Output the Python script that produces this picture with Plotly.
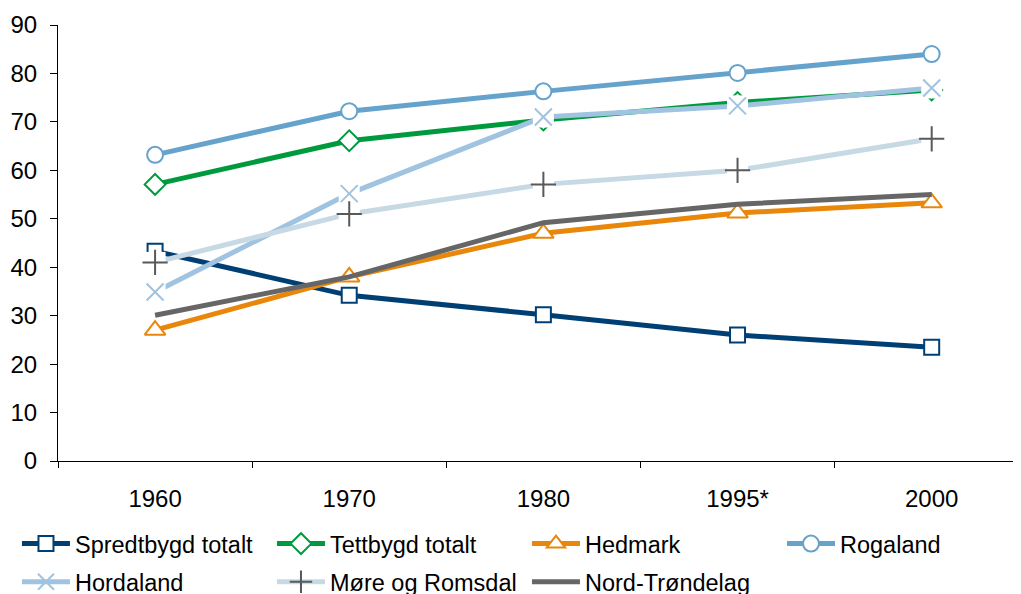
import plotly.graph_objects as go

years = ["1960", "1970", "1980", "1995*", "2000"]
spredtbygd = [43.3, 34.2, 30.2, 26.0, 23.5]
tettbygd = [57.1, 66.1, 70.4, 74.0, 76.6]
hedmark = [27.0, 38.0, 47.0, 51.2, 53.3]
rogaland = [63.2, 72.2, 76.3, 80.1, 84.0]
hordaland = [34.9, 55.2, 71.0, 73.3, 77.0]
more = [41.0, 51.0, 57.1, 60.0, 66.5]
nordtrondelag = [30.1, 38.0, 49.2, 53.0, 55.0]

# name, values, line colour, marker dict, legend id, white marker background
series = [
    ("Spredtbygd totalt", spredtbygd, "#003f74",
     dict(symbol="square", size=15, color="white", line=dict(color="#003f74", width=2)), "legend", False),
    ("Tettbygd totalt", tettbygd, "#009a3e",
     dict(symbol="diamond", size=16, color="white", line=dict(color="#009a3e", width=2)), "legend", False),
    ("Hedmark", hedmark, "#e8870a",
     dict(symbol="triangle-up", size=18, color="white", line=dict(color="#e8870a", width=2)), "legend", False),
    ("Rogaland", rogaland, "#66a3cc",
     dict(symbol="circle", size=16, color="white", line=dict(color="#66a3cc", width=2)), "legend3", False),
    ("Hordaland", hordaland, "#9fc3e0",
     dict(symbol="x-thin-open", size=17, color="#9fc3e0", line=dict(color="#9fc3e0", width=2)), "legend2", True),
    ("Møre og Romsdal", more, "#c6d9e5",
     dict(symbol="cross-thin-open", size=18, color="#595959", line=dict(color="#595959", width=2)), "legend2", True),
    ("Nord-Trøndelag", nordtrondelag, "#666666", None, "legend2", False),
]

fig = go.Figure()
for name, vals, col, mk, lg, bg in series:
    if mk is None:
        fig.add_trace(go.Scatter(x=years, y=vals, name=name, mode="lines", legend=lg,
                                 line=dict(color=col, width=5)))
    elif not bg:
        fig.add_trace(go.Scatter(x=years, y=vals, name=name, mode="lines+markers", legend=lg,
                                 line=dict(color=col, width=5), marker=mk))
    else:
        fig.add_trace(go.Scatter(x=years, y=vals, name=name, mode="lines", showlegend=False,
                                 line=dict(color=col, width=5), hoverinfo="skip"))
        fig.add_trace(go.Scatter(x=years, y=vals, name=name, mode="markers", showlegend=False,
                                 marker=dict(symbol="square", size=21, color="white",
                                             line=dict(width=0)), hoverinfo="skip"))
        fig.add_trace(go.Scatter(x=years, y=vals, name=name, mode="markers", showlegend=False,
                                 marker=mk))
        fig.add_trace(go.Scatter(x=[None], y=[None], name=name, mode="lines+markers", legend=lg,
                                 line=dict(color=col, width=5), marker=mk))

# page body has an 8px margin: figure is 1013x586 drawn at (8, 8)
leg_common = dict(orientation="h", xanchor="left", yanchor="middle",
                  entrywidth=192, entrywidthmode="pixels", itemwidth=48,
                  font=dict(size=23.5, family="Liberation Sans, Arial, sans-serif", color="black"),
                  bgcolor="rgba(0,0,0,0)", tracegroupgap=0)

fig.update_layout(
    width=1013, height=586,
    margin=dict(l=50, r=0, t=17, b=133, autoexpand=False),
    paper_bgcolor="white", plot_bgcolor="white",
    font=dict(family="Liberation Sans, Arial, sans-serif", size=24, color="black"),
    showlegend=True,
    legend=dict(x=-0.0426, y=-0.19, **leg_common),
    legend3=dict(x=0.7518, y=-0.19, **leg_common),
    legend2=dict(x=-0.0426, y=-0.2775, **leg_common),
)
fig.update_xaxes(type="category", range=[-0.5, 4.46], showline=True, linecolor="black",
                 linewidth=1, ticks="outside", tickson="boundaries", ticklen=6,
                 tickcolor="black", showgrid=False, tickfont=dict(size=24),
                 ticklabelstandoff=16, automargin=False)
fig.update_yaxes(range=[0, 90], dtick=10, showline=True, linecolor="black", linewidth=1,
                 ticks="outside", ticklen=7, tickcolor="black", showgrid=False,
                 zeroline=False, tickfont=dict(size=24), ticklabelstandoff=8,
                 automargin=False)

fig.write_html("out.html")
